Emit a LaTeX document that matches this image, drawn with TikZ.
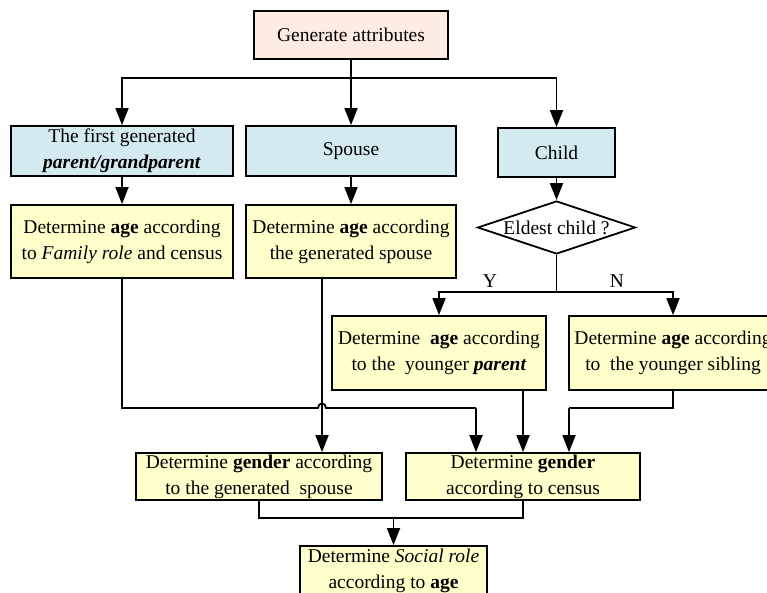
\documentclass[tikz,border=0pt]{standalone}
\usepackage{fontspec}
\setmainfont{Liberation Serif}
\usetikzlibrary{arrows.meta,shapes.geometric}
\definecolor{peach}{HTML}{FCECE2}
\definecolor{lblue}{HTML}{D3EAF0}
\definecolor{lyellow}{HTML}{FFFFCC}
\tikzset{
  box/.style={draw=black, line width=1.8pt, inner sep=0pt, align=center,
    font=\fontsize{19.5}{26}\selectfont},
  topbox/.style={box, fill=peach},
  bluebox/.style={box, fill=lblue},
  yelbox/.style={box, fill=lyellow},
  lbl/.style={font=\fontsize{19.5}{26}\selectfont, inner sep=0pt},
  conn/.style={line width=1.8pt},
  arr/.style={conn, -{Triangle[length=17pt,width=13pt]}},
}
\begin{document}
\begin{tikzpicture}[x=1pt,y=-1pt]
\useasboundingbox (0,0) rectangle (767,593);
\clip (0,0) rectangle (767,593);
% row 0
\node[topbox, minimum width=194pt, minimum height=48pt] (gen) at (351,35) {Generate attributes};
% row 1
\node[bluebox, minimum width=222pt, minimum height=50pt] (p1) at (122,151) {The first generated\\\textbf{\textit{parent/grandparent}}};
\node[bluebox, minimum width=210pt, minimum height=50pt] (sp) at (351,151) {Spouse};
\node[bluebox, minimum width=117pt, minimum height=49pt] (ch) at (556.5,152.5) {Child};
% row 2
\node[yelbox, minimum width=222pt, minimum height=73pt] (a1) at (122,241.5) {Determine \textbf{age} according\\to \textit{Family role} and census};
\node[yelbox, minimum width=210pt, minimum height=73pt] (a2) at (351,241.5) {Determine \textbf{age} according\\the generated spouse};
\node[draw=black, line width=1.8pt, fill=white, diamond, minimum width=158pt, minimum height=53pt, inner sep=0pt,
  label={[lbl]center:Eldest child ?}] (dia) at (556.5,227.5) {};
\coordinate (yn) at (556.5,292);
\node[lbl] (ylab) at (490,281) {Y};
\node[lbl] (nlab) at (617,281) {N};
% row 3
\node[yelbox, minimum width=214pt, minimum height=74pt] (a3) at (439,353) {Determine\ \ \textbf{age} according\\to the\ \ younger \textbf{\textit{parent}}};
\node[yelbox, minimum width=208pt, minimum height=74pt] (a4) at (673,353) {Determine \textbf{age} according\\to\ \ the younger sibling};
% row 4
\node[yelbox, minimum width=246pt, minimum height=47pt] (g1) at (259,476.5) {Determine \textbf{gender} according\\to the generated\ \ spouse};
\node[yelbox, minimum width=234pt, minimum height=47pt] (g2) at (523,476.5) {Determine \textbf{gender}\\according to census};
% row 5
\node[yelbox, minimum width=187pt, minimum height=50pt] (sr) at (393.5,571) {Determine \textit{Social role}\\according to \textbf{age}};
% connectors
\coordinate (bus) at (351,78);
\draw[conn] (gen.south) -- (bus);
\draw[arr] (bus) -| (p1.north);
\draw[arr] (bus) -- (sp.north);
\draw[arr] (bus) -| (ch.north);
\draw[arr] (p1.south) -- (a1.north);
\draw[arr] (sp.south) -- (a2.north);
\draw[arr] (ch.south) -- (dia.north);
\draw[conn] (dia.south) -- (yn);
\draw[arr] (yn) -| (a3.north);
\draw[arr] (yn) -| (a4.north);
% merges to gender boxes
\coordinate (m1) at (122,408);
\coordinate (h1) at (318,408);
\coordinate (h2) at (326,408);
\coordinate (m2) at (476,408);
\coordinate (s2) at (322,408);
\draw[conn] (a1.south) -- (m1) -- (h1) .. controls (318,402) and (326,402) .. (h2) -- (m2);
\draw[arr] (m2) -- (m2 |- g2.north);
\draw[arr] (a2.south -| s2) -- (g1.north -| s2);
\draw[arr] (a3.south -| g2.north) -- (g2.north);
\coordinate (m3) at (673,408);
\coordinate (m4) at (569,408);
\draw[conn] (a4.south) -- (m3) -- (m4);
\draw[arr] (m4) -- (m4 |- g2.north);
% merge to social role
\coordinate (b1) at (259,518);
\coordinate (b2) at (523,518);
\coordinate (b3) at (393.5,518);
\draw[conn] (g1.south) -- (b1) -- (b2) -- (g2.south);
\draw[arr] (b3) -- (sr.north);
\end{tikzpicture}
\end{document}
